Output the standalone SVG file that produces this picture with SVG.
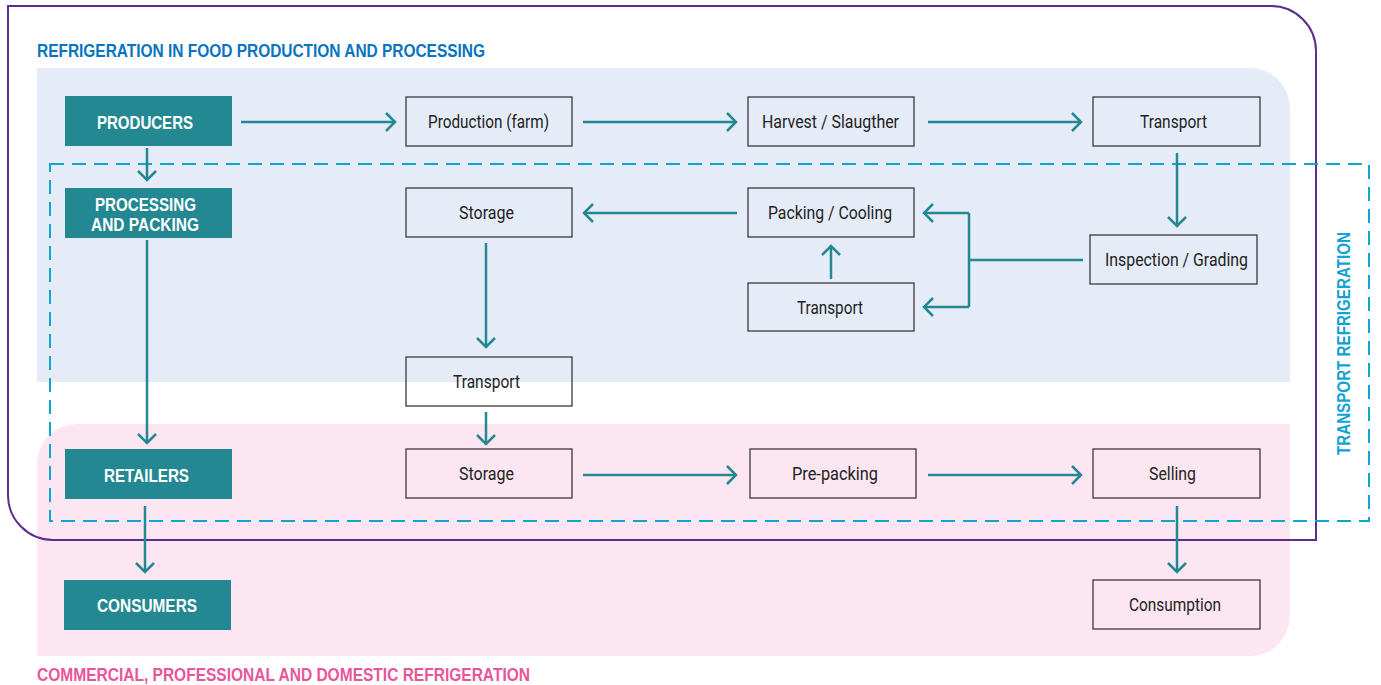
<svg xmlns="http://www.w3.org/2000/svg" width="1381" height="685" viewBox="0 0 1381 685">
<style>
.tn rect{fill:#238891}
.tn text{fill:#fff;font-family:"Liberation Sans",Arial,sans-serif;font-weight:bold;font-size:18px;text-anchor:middle}
.wn rect{fill:none;stroke:#3a3a3a;stroke-width:1.3}
.wn text{fill:#222;font-family:Roboto,"Liberation Sans",sans-serif;font-size:18px;text-anchor:middle}
.hd{font-family:"Liberation Sans",Arial,sans-serif;font-weight:bold;font-size:19px}
#connectors path{fill:none;stroke:#238891;stroke-width:2.5}
</style>
<defs>
<marker id="ah" markerUnits="userSpaceOnUse" markerWidth="24" markerHeight="24" viewBox="-12 -12 24 24" refX="0" refY="0" orient="auto">
<path d="M-9,-9 L0,0 L-9,9" fill="none" stroke="#238891" stroke-width="2.5"/>
</marker>
</defs>
<rect width="1381" height="685" fill="#fff"/>
<g id="panels">
<path d="M77,424 H1290 V616 A40,40 0 0 1 1250,656 H37 V464 A40,40 0 0 1 77,424 Z" fill="#fce6f1"/>
<path d="M37,68 H1250 A40,40 0 0 1 1290,108 V382 H37 Z" fill="#e5ecf8"/>
<path d="M8,6 H1271 A45,45 0 0 1 1316,51 V540 H53 A45,45 0 0 1 8,495 Z" fill="none" stroke="#5b2d8e" stroke-width="2"/>
<rect x="50" y="164" width="1319" height="357" fill="none" stroke="#0ea5d3" stroke-width="2" stroke-dasharray="14 8"/>
<text class="hd" x="37" y="57" fill="#0a74c1" textLength="448" lengthAdjust="spacingAndGlyphs">REFRIGERATION IN FOOD PRODUCTION AND PROCESSING</text>
<text class="hd" x="37" y="681" fill="#e8559b" style="font-size:18px" textLength="493" lengthAdjust="spacingAndGlyphs">COMMERCIAL, PROFESSIONAL AND DOMESTIC REFRIGERATION</text>
<text class="hd" transform="translate(1350,455) rotate(-90)" x="0" y="0" fill="#12a2d4" textLength="223" lengthAdjust="spacingAndGlyphs">TRANSPORT REFRIGERATION</text>
</g>
<g id="producers" class="tn"><rect x="65" y="96" width="167" height="50"/><text x="145" y="129" textLength="96" lengthAdjust="spacingAndGlyphs">PRODUCERS</text></g>
<g id="processing" class="tn"><rect x="65" y="188" width="167" height="50"/><text x="145.5" y="211" textLength="101" lengthAdjust="spacingAndGlyphs">PROCESSING</text><text x="145" y="231" textLength="108" lengthAdjust="spacingAndGlyphs">AND PACKING</text></g>
<g id="retailers" class="tn"><rect x="65" y="449" width="167" height="50"/><text x="146.5" y="482" textLength="85" lengthAdjust="spacingAndGlyphs">RETAILERS</text></g>
<g id="consumers" class="tn"><rect x="64" y="580" width="167" height="50"/><text x="147" y="612" textLength="100" lengthAdjust="spacingAndGlyphs">CONSUMERS</text></g>
<g id="production" class="wn"><rect x="406" y="97" width="166" height="49"/><text x="488.5" y="128" textLength="121" lengthAdjust="spacingAndGlyphs">Production (farm)</text></g>
<g id="harvest" class="wn"><rect x="748" y="97" width="166" height="49"/><text x="830.5" y="128" textLength="137" lengthAdjust="spacingAndGlyphs">Harvest / Slaugther</text></g>
<g id="transport1" class="wn"><rect x="1093" y="97" width="167" height="49"/><text x="1173.5" y="128" textLength="67" lengthAdjust="spacingAndGlyphs">Transport</text></g>
<g id="storage1" class="wn"><rect x="406" y="188" width="166" height="49"/><text x="486.5" y="219" textLength="55" lengthAdjust="spacingAndGlyphs">Storage</text></g>
<g id="packing" class="wn"><rect x="748" y="188" width="166" height="49"/><text x="830" y="219" textLength="124" lengthAdjust="spacingAndGlyphs">Packing / Cooling</text></g>
<g id="inspection" class="wn"><rect x="1090" y="235" width="167" height="49"/><text x="1176.5" y="266" textLength="143" lengthAdjust="spacingAndGlyphs">Inspection / Grading</text></g>
<g id="transport2" class="wn"><rect x="748" y="283" width="166" height="48"/><text x="830" y="314" textLength="66" lengthAdjust="spacingAndGlyphs">Transport</text></g>
<g id="transport3" class="wn"><rect x="406" y="357" width="166" height="49"/><text x="486.5" y="388" textLength="67" lengthAdjust="spacingAndGlyphs">Transport</text></g>
<g id="storage2" class="wn"><rect x="406" y="449" width="166" height="49"/><text x="486.5" y="480" textLength="55" lengthAdjust="spacingAndGlyphs">Storage</text></g>
<g id="prepacking" class="wn"><rect x="750" y="449" width="166" height="49"/><text x="835" y="480" textLength="86" lengthAdjust="spacingAndGlyphs">Pre-packing</text></g>
<g id="selling" class="wn"><rect x="1093" y="449" width="167" height="49"/><text x="1172.5" y="480" textLength="47" lengthAdjust="spacingAndGlyphs">Selling</text></g>
<g id="consumption" class="wn"><rect x="1093" y="580" width="167" height="49"/><text x="1175" y="611" textLength="92" lengthAdjust="spacingAndGlyphs">Consumption</text></g>
<g id="connectors">
<path d="M241,122 H395" marker-end="url(#ah)"/>
<path d="M583,122 H736" marker-end="url(#ah)"/>
<path d="M928,122 H1081" marker-end="url(#ah)"/>
<path d="M1177,153 V226" marker-end="url(#ah)"/>
<path d="M1083,260 H969"/>
<path d="M969,213 V307"/>
<path d="M969,213 H924" marker-end="url(#ah)"/>
<path d="M969,307 H924" marker-end="url(#ah)"/>
<path d="M831,279 V246" marker-end="url(#ah)"/>
<path d="M737,213 H584" marker-end="url(#ah)"/>
<path d="M486,243 V347" marker-end="url(#ah)"/>
<path d="M486,412 V444" marker-end="url(#ah)"/>
<path d="M583,475 H736" marker-end="url(#ah)"/>
<path d="M928,475 H1081" marker-end="url(#ah)"/>
<path d="M1177,506 V572" marker-end="url(#ah)"/>
<path d="M147,148 V180" marker-end="url(#ah)"/>
<path d="M147,240 V443" marker-end="url(#ah)"/>
<path d="M145,506 V572" marker-end="url(#ah)"/>
</g>
</svg>
